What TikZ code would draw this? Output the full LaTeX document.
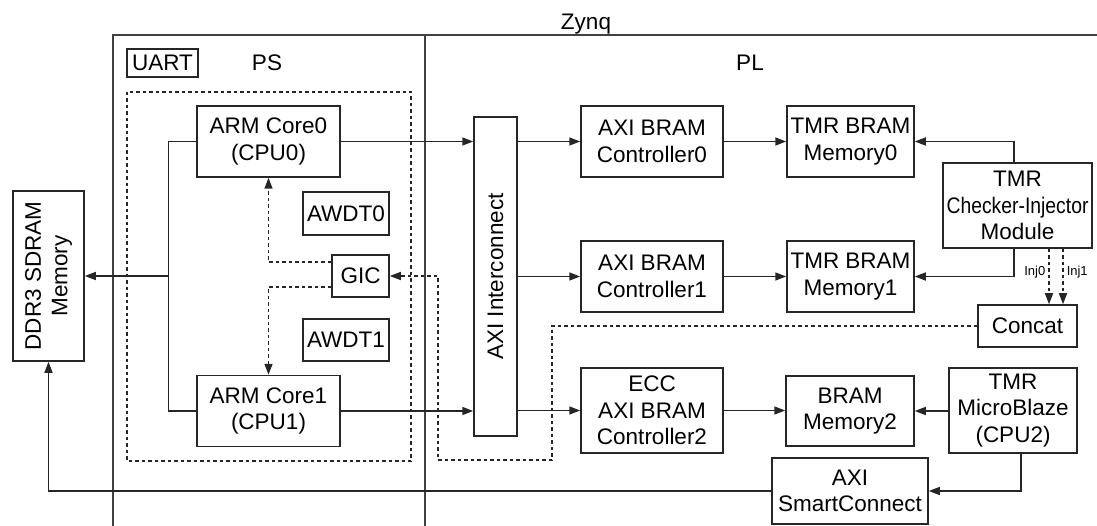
\documentclass[tikz,border=0pt]{standalone}
\usepackage{fontspec}
\usepackage{graphicx}
\setmainfont{Liberation Sans}
\usetikzlibrary{arrows.meta}
\begin{document}
\begin{tikzpicture}[x=1pt,y=-1pt,line width=1.5pt,draw=black!85,
  box/.style={draw,rectangle,inner sep=0pt,align=center,font=\fontsize{22.5}{26.5}\selectfont},
  lbl/.style={inner sep=0pt,font=\fontsize{22.5}{26.5}\selectfont},
  small/.style={inner sep=0pt,font=\fontsize{13}{15}\selectfont},
  arr/.style={-{Triangle[length=11pt,width=8pt]}},
  dsh/.style={dash pattern=on 3.5pt off 3pt}]
\useasboundingbox (0,0) rectangle (1097,526);

% Zynq frame
\draw[black!75] (113,526) -- (113,35) -- (1097,35);
\draw[black!75] (425,35) -- (425,526);
\node[lbl,anchor=base] (zynq) at (586,30) {Zynq};
\node[lbl,anchor=base] (ps) at (267,71) {PS};
\node[lbl,anchor=base] (pl) at (750,71) {PL};

% PS
\node[box,minimum width=71pt,minimum height=28pt] (uart) at (162.5,63) {UART};
\draw[dsh] (127,92) rectangle (411,461);
\node[box,minimum width=143pt,minimum height=71pt] (core0) at (268.5,141.5) {ARM Core0\\(CPU0)};
\node[box,minimum width=143pt,minimum height=71pt] (core1) at (268.5,411) {ARM Core1\\(CPU1)};
\node[box,minimum width=86pt,minimum height=43pt] (awdt0) at (346,213.5) {AWDT0};
\node[box,minimum width=57pt,minimum height=42pt] (gic) at (360.5,276) {GIC};
\node[box,minimum width=86pt,minimum height=42pt] (awdt1) at (346,340) {AWDT1};

% DDR
\node[box,minimum width=71pt,minimum height=170pt] (ddr) at (48.5,276) {};
\node[lbl,rotate=90,align=center] (ddrtxt) at (ddr.center) {DDR3 SDRAM\\Memory};

% PL
\node[box,minimum width=43pt,minimum height=319pt] (axi) at (495.5,276.5) {};
\node[lbl,rotate=90] (axitxt) at (axi.center) {AXI Interconnect};
\node[box,minimum width=142pt,minimum height=71pt] (ctrl0) at (652,141.5) {AXI BRAM\\Controller0};
\node[box,minimum width=127pt,minimum height=71pt] (mem0) at (850.5,141.5) {TMR BRAM\\Memory0};
\node[box,minimum width=142pt,minimum height=71pt] (ctrl1) at (652,276.5) {AXI BRAM\\Controller1};
\node[box,minimum width=127pt,minimum height=71pt] (mem1) at (850.5,276.5) {TMR BRAM\\Memory1};
\node[box,minimum width=149pt,minimum height=85pt] (checker) at (1017.5,205.5) {TMR\\\scalebox{0.86}[1]{Checker-Injector}\\Module};
\node[box,minimum width=99pt,minimum height=42pt] (concat) at (1027.5,326) {Concat};
\node[box,minimum width=142pt,minimum height=85pt] (ctrl2) at (652,410.5) {ECC\\AXI BRAM\\Controller2};
\node[box,minimum width=128pt,minimum height=70pt] (mem2) at (850,411) {BRAM\\Memory2};
\node[box,minimum width=128pt,minimum height=85pt] (mb) at (1013,410.5) {TMR\\MicroBlaze\\(CPU2)};
\node[box,minimum width=156pt,minimum height=66pt] (sc) at (850,491) {AXI\\SmartConnect};

% PS connectors
\draw (core0.west) -- ++(-28,0) coordinate (busT) |- (core1.west);
\coordinate (busM) at (busT |- ddr.east);
\draw[arr] (busM) -- (ddr.east);
\draw[dsh,arr] ([yshift=14pt]gic.west) -| (core0.south);
\draw[dsh,arr] ([yshift=-11pt]gic.west) -| (core1.north);
\draw[arr] (core0.east) -- (core0.east -| axi.west);
\draw[arr] (core1.east) -- (core1.east -| axi.west);

% PL connectors
\draw[arr] (axi.east |- ctrl0.west) -- (ctrl0.west);
\draw[arr] (axi.east |- ctrl1.west) -- (ctrl1.west);
\draw[arr] (axi.east |- ctrl2.west) -- (ctrl2.west);
\draw[arr] (ctrl0.east) -- (mem0.west);
\draw[arr] (ctrl1.east) -- (mem1.west);
\draw[arr] (ctrl2.east) -- (ctrl2.east -| mem2.west);
\draw[arr] (mb.west |- mem2.east) -- (mem2.east);
\draw[arr] ([xshift=-3.5pt]checker.north) |- (mem0.east);
\draw[arr] ([xshift=-3.5pt]checker.south) |- (mem1.east);
\draw[dsh,arr] ([xshift=31.5pt]checker.south) coordinate (i0) -- (i0 |- concat.north);
\draw[dsh,arr] ([xshift=45.5pt]checker.south) coordinate (i1) -- (i1 |- concat.north);
\node[small,anchor=east] (inj0) at (1046,272) {Inj0};
\node[small,anchor=west] (inj1) at (1066,272) {Inj1};
\draw[dsh,arr] (concat.west) -- (552,326) -- (552,460) -- (438,460) -- (438,276) -- (gic.east);
\draw[arr] ([xshift=8pt]mb.south) |- (sc.east);
\draw[arr] (sc.west) -| (ddr.south);
\end{tikzpicture}
\end{document}
